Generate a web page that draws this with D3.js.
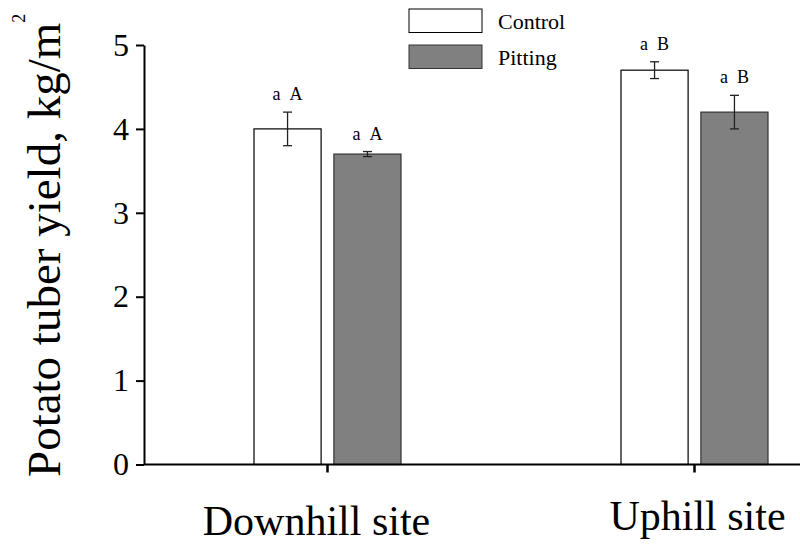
<!DOCTYPE html>
<html>
<head>
<meta charset="utf-8">
<script src="https://cdn.jsdelivr.net/npm/d3@7"></script>
<style>
  body { margin: 0; background: #fff; }
  svg text { font-family: "Liberation Serif", "Times New Roman", Tinos, "DejaVu Serif", serif !important; fill: #000; }
</style>
</head>
<body>
<div id="chart"></div>
<script>
// data
var categories = ["Downhill site", "Uphill site"];
var series = ["Control", "Pitting"];
var controlValues = [4.0, 4.7];
var controlErrors = [0.2, 0.1];
var pittingValues = [3.7, 4.2];
var pittingErrors = [0.03, 0.2];
var controlLetters = [["a", "A"], ["a", "B"]];
var pittingLetters = [["a", "A"], ["a", "B"]];
var yTicks = [0, 1, 2, 3, 4, 5];

var width = 800, height = 545;
var colors = { Control: "#ffffff", Pitting: "#808080" };
var strokes = { Control: "#000", Pitting: "#333" };

var svg = d3.select("#chart").append("svg")
    .attr("width", width)
    .attr("height", height);

var x0 = 144, yBottom = 464.5, yTop = 45;

var y = d3.scaleLinear().domain([0, 5]).range([yBottom, yTop]);

// each site gets a 367px slot, centered on its tick
var x = d3.scaleBand().domain(categories).range([x0, x0 + 734]).padding(0);
var xSub = d3.scaleBand().domain(series).range([-73.5, 73.5]).paddingInner(0.16);

var rows = [];
categories.forEach(function(c, i) {
    rows.push({ cat: c, s: "Control", v: controlValues[i], e: controlErrors[i], lab: controlLetters[i] });
    rows.push({ cat: c, s: "Pitting", v: pittingValues[i], e: pittingErrors[i], lab: pittingLetters[i] });
});

function cx(d) { return x(d.cat) + x.bandwidth() / 2 + xSub(d.s) + xSub.bandwidth() / 2; }

// bars
svg.append("g").selectAll("rect")
    .data(rows)
    .enter().append("rect")
    .attr("x", function(d) { return x(d.cat) + x.bandwidth() / 2 + xSub(d.s); })
    .attr("y", function(d) { return y(d.v); })
    .attr("width", xSub.bandwidth())
    .attr("height", function(d) { return y(0) - y(d.v); })
    .style("fill", function(d) { return colors[d.s]; })
    .style("stroke", function(d) { return strokes[d.s]; })
    .style("stroke-width", 1.2);

// error bars
var err = svg.append("g").selectAll("g")
    .data(rows)
    .enter().append("g")
    .style("stroke", "#222")
    .style("stroke-width", 1.3);

err.append("line")
    .attr("x1", cx).attr("x2", cx)
    .attr("y1", function(d) { return y(d.v + d.e); })
    .attr("y2", function(d) { return y(d.v - d.e); });
err.append("line")
    .attr("x1", function(d) { return cx(d) - 4.5; })
    .attr("x2", function(d) { return cx(d) + 4.5; })
    .attr("y1", function(d) { return y(d.v + d.e); })
    .attr("y2", function(d) { return y(d.v + d.e); });
err.append("line")
    .attr("x1", function(d) { return cx(d) - 4.5; })
    .attr("x2", function(d) { return cx(d) + 4.5; })
    .attr("y1", function(d) { return y(d.v - d.e); })
    .attr("y2", function(d) { return y(d.v - d.e); });

// significance letters
var lab = svg.append("g").selectAll("text")
    .data(rows)
    .enter().append("text")
    .attr("x", cx)
    .attr("y", function(d) { return y(d.v + d.e) - 12; })
    .attr("text-anchor", "middle")
    .style("font-size", "18px");
lab.append("tspan").text(function(d) { return d.lab[0]; });
lab.append("tspan").attr("dx", 9).text(function(d) { return d.lab[1]; });

// axes
var yAxis = svg.append("g")
    .attr("transform", "translate(" + x0 + ",0)")
    .call(d3.axisLeft(y).tickValues(yTicks).tickFormat(d3.format("d")).tickSize(8).tickSizeOuter(0).tickPadding(7));
yAxis.select(".domain").style("stroke-width", 2);
yAxis.selectAll(".tick line").style("stroke-width", 2);
yAxis.selectAll(".tick text").style("font-size", "32px");

var xAxis = svg.append("g")
    .attr("transform", "translate(0," + yBottom + ")")
    .call(d3.axisBottom(x).tickSize(8).tickSizeOuter(0).tickPadding(31));
xAxis.select(".domain").attr("d", "M" + x0 + ",0H" + width).style("stroke-width", 2);
xAxis.selectAll(".tick line").style("stroke-width", 2.5);
var nudge = { "Downhill site": [-11, 2], "Uphill site": [3, -3] };
xAxis.selectAll(".tick text")
    .style("font-size", "42px")
    .attr("dx", function(d) { return nudge[d][0]; })
    .attr("dy", function(d) { return (0.71 * 42 + nudge[d][1]) + "px"; });

// y title
var title = svg.append("text")
    .attr("transform", "translate(60,477) rotate(-90)")
    .attr("text-anchor", "start")
    .style("font-size", "47px");
title.append("tspan").text("Potato tuber yield, kg/m");
title.append("tspan").attr("dy", -35).style("font-size", "18px").text("2");

// legend
var legend = svg.append("g").selectAll("g")
    .data(series)
    .enter().append("g")
    .attr("transform", function(d, i) { return "translate(409," + (9 + i * 36) + ")"; });
legend.append("rect")
    .attr("width", 73).attr("height", 23.5)
    .style("fill", function(d) { return colors[d]; })
    .style("stroke", function(d) { return strokes[d]; })
    .style("stroke-width", 1);
legend.append("text")
    .attr("x", 89).attr("y", 20)
    .style("font-size", "22px")
    .text(function(d) { return d; });
</script>
</body>
</html>
